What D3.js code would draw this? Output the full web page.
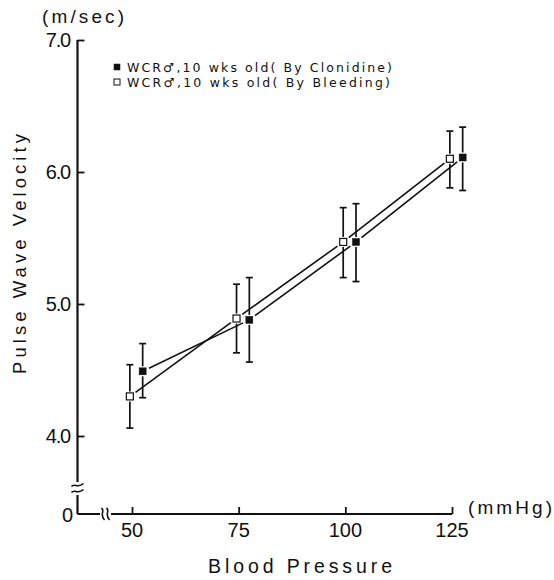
<!DOCTYPE html>
<html><head><meta charset="utf-8">
<script src="https://cdn.jsdelivr.net/npm/d3@7"></script>
<style>
body{margin:0;background:#fff;}
svg text{font-family:"Liberation Sans",Arial,sans-serif;fill:#111;}
svg text.leg{font-family:"DejaVu Sans",sans-serif;}
</style></head>
<body><svg id="c" width="554" height="580"></svg>
<script>
// ---- data ----
const seriesNames = ["WCR\u2642,10 wks old( By Clonidine)", "WCR\u2642,10 wks old( By Bleeding)"];
const clonidineX = [52.5, 77.5, 102.5, 127.5];
const clonidineMean = [4.49, 4.88, 5.47, 6.11];
const clonidineHi = [4.70, 5.20, 5.76, 6.34];
const clonidineLo = [4.29, 4.56, 5.17, 5.86];
const bleedingX = [49.5, 74.5, 99.5, 124.5];
const bleedingMean = [4.30, 4.89, 5.47, 6.10];
const bleedingHi = [4.54, 5.15, 5.73, 6.31];
const bleedingLo = [4.06, 4.63, 5.20, 5.88];
const xTicks = [50, 75, 100, 125];
const yTicks = [4.0, 5.0, 6.0, 7.0];

const svg = d3.select("#c");
const x = d3.scaleLinear().domain([50, 125]).range([132, 452]);
const y = d3.scaleLinear().domain([4, 7]).range([436, 40]);
const axX = 77.5, axY = 514;
const ink = "#111";

// y axis (broken)
svg.append("line").attr("x1", axX).attr("x2", axX).attr("y1", y(7)).attr("y2", 482).attr("stroke", ink).attr("stroke-width", 2.2);
svg.append("line").attr("x1", axX).attr("x2", axX).attr("y1", 495).attr("y2", axY).attr("stroke", ink).attr("stroke-width", 2.2);
const yAxis = d3.axisRight(y).tickValues(yTicks).tickSize(7).tickFormat("");
const gy = svg.append("g").attr("transform", `translate(${axX},0)`).call(yAxis);
gy.select(".domain").remove();
gy.selectAll(".tick line").attr("stroke", ink).attr("stroke-width", 1.8);
svg.selectAll(".ylab").data(yTicks).enter().append("text")
  .attr("x", 70).attr("y", d => y(d) + 7).attr("text-anchor", "end")
  .attr("font-size", 20).attr("letter-spacing", -1.2).text(d => d.toFixed(1));
svg.append("text").attr("x", 73).attr("y", axY + 8).attr("text-anchor", "end").attr("font-size", 20).text("0");
// y break
function squiggleH(cx, cy) {
  return `M${cx-6},${cy+1.5} C${cx-3},${cy-2.5} ${cx},${cy+4} ${cx+6},${cy-1.5}`;
}
svg.append("path").attr("d", squiggleH(axX, 485)).attr("fill", "none").attr("stroke", ink).attr("stroke-width", 1.6);
svg.append("path").attr("d", squiggleH(axX, 491)).attr("fill", "none").attr("stroke", ink).attr("stroke-width", 1.6);

// x axis (broken)
svg.append("line").attr("x1", axX).attr("x2", 100).attr("y1", axY).attr("y2", axY).attr("stroke", ink).attr("stroke-width", 2);
svg.append("line").attr("x1", 111).attr("x2", x(125)).attr("y1", axY).attr("y2", axY).attr("stroke", ink).attr("stroke-width", 2);
function squiggleV(cx, cy) {
  return `M${cx-1.5},${cy-6} C${cx+2.5},${cy-3} ${cx-4},${cy} ${cx+1.5},${cy+6}`;
}
svg.append("path").attr("d", squiggleV(103, axY)).attr("fill", "none").attr("stroke", ink).attr("stroke-width", 1.6);
svg.append("path").attr("d", squiggleV(108, axY)).attr("fill", "none").attr("stroke", ink).attr("stroke-width", 1.6);
const xAxis = d3.axisTop(x).tickValues(xTicks).tickSize(7).tickFormat("");
const gx = svg.append("g").attr("transform", `translate(0,${axY})`).call(xAxis);
gx.select(".domain").remove();
gx.selectAll(".tick line").attr("stroke", ink).attr("stroke-width", 1.8);
svg.selectAll(".xlab").data(xTicks).enter().append("text")
  .attr("x", d => x(d)).attr("y", 537).attr("text-anchor", "middle")
  .attr("font-size", 20).text(d => d);

// axis titles
svg.append("text").attr("x", 42).attr("y", 23).attr("font-size", 19).attr("textLength", 82).attr("lengthAdjust", "spacing").text("(m/sec)");
svg.append("text").attr("x", 468).attr("y", 514).attr("font-size", 19).attr("textLength", 84).attr("lengthAdjust", "spacing").text("(mmHg)");
svg.append("text").attr("x", 208).attr("y", 573).attr("font-size", 19.5).attr("textLength", 184).attr("lengthAdjust", "spacing").text("Blood Pressure");
svg.append("text").attr("transform", "translate(26,374) rotate(-90)").attr("font-size", 18.5).attr("textLength", 240).attr("lengthAdjust", "spacing").text("Pulse Wave Velocity");

// series
const series = [
  {xs: clonidineX, m: clonidineMean, hi: clonidineHi, lo: clonidineLo, filled: true},
  {xs: bleedingX, m: bleedingMean, hi: bleedingHi, lo: bleedingLo, filled: false}
];
const gap = 7;
series.forEach(s => {
  const pts = s.xs.map((v, i) => [x(v), y(s.m[i])]);
  for (let i = 0; i < pts.length - 1; i++) {
    const [x1, y1] = pts[i], [x2, y2] = pts[i + 1];
    const L = Math.hypot(x2 - x1, y2 - y1), ux = (x2 - x1) / L, uy = (y2 - y1) / L;
    svg.append("line").attr("x1", x1 + ux * gap).attr("y1", y1 + uy * gap)
      .attr("x2", x2 - ux * gap).attr("y2", y2 - uy * gap).attr("stroke", ink).attr("stroke-width", 1.6);
  }
  s.xs.forEach((v, i) => {
    const cx = x(v);
    svg.append("line").attr("x1", cx).attr("x2", cx).attr("y1", y(s.hi[i])).attr("y2", y(s.m[i]) - 5).attr("stroke", ink).attr("stroke-width", 1.7);
    svg.append("line").attr("x1", cx).attr("x2", cx).attr("y1", y(s.m[i]) + 5).attr("y2", y(s.lo[i])).attr("stroke", ink).attr("stroke-width", 1.7);
    [s.hi[i], s.lo[i]].forEach(e => svg.append("line").attr("x1", cx - 3.5).attr("x2", cx + 3.5).attr("y1", y(e)).attr("y2", y(e)).attr("stroke", ink).attr("stroke-width", 1.7));
    svg.append("rect").attr("x", cx - 3.5).attr("y", y(s.m[i]) - 3.5).attr("width", 7).attr("height", 7)
      .attr("fill", s.filled ? ink : "#fff").attr("stroke", ink).attr("stroke-width", s.filled ? 0.5 : 1.2);
  });
});

// legend
seriesNames.forEach((nm, i) => {
  const ly = 67 + i * 15;
  svg.append("rect").attr("x", 114).attr("y", ly - 3).attr("width", 6).attr("height", 6)
    .attr("fill", i === 0 ? ink : "#fff").attr("stroke", ink).attr("stroke-width", i === 0 ? 0.5 : 1);
  svg.append("text").attr("class", "leg").attr("x", 127).attr("y", ly + 4.5).attr("font-size", 12.5)
    .attr("textLength", i === 0 ? 265 : 263).attr("lengthAdjust", "spacing").text(nm);
});
</script></body></html>
